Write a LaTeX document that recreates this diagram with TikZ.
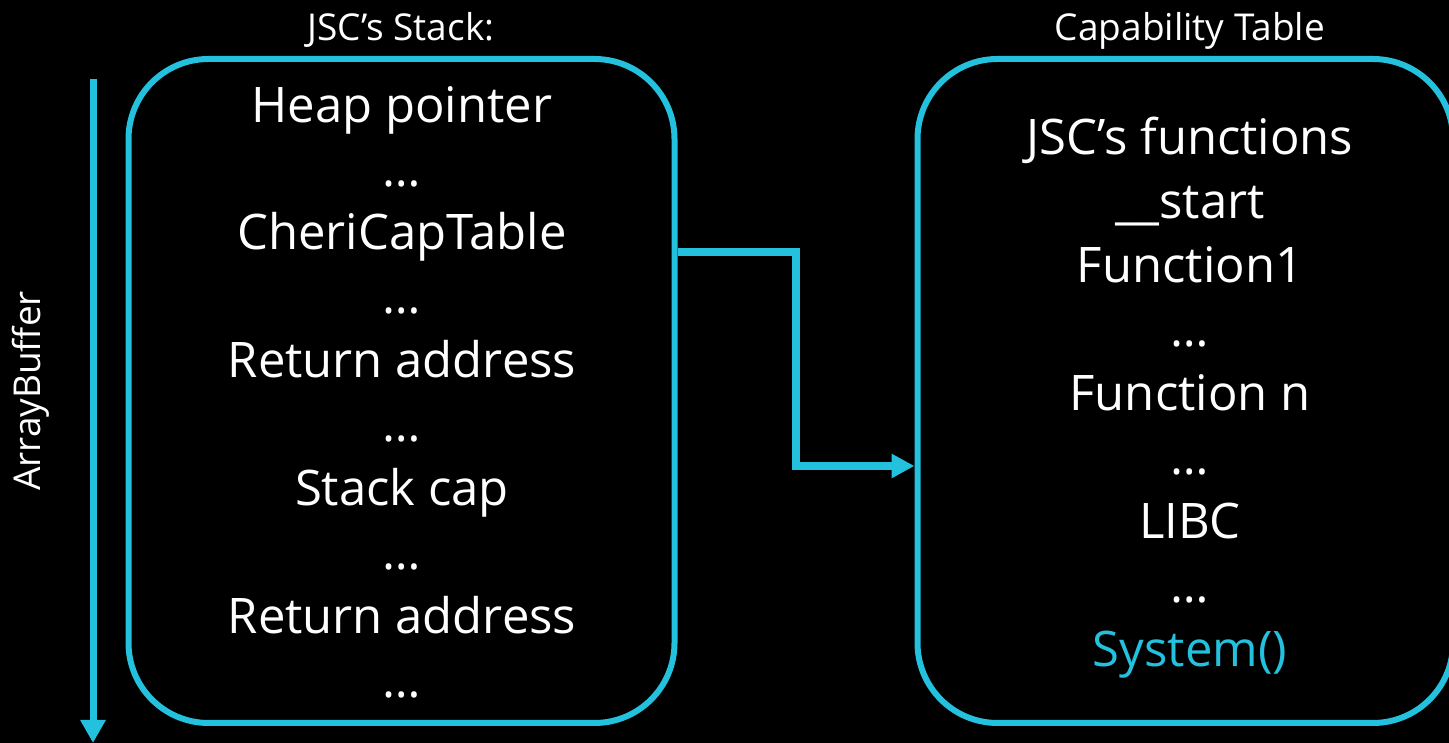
\documentclass[tikz,border=0pt]{standalone}
\usepackage{fontspec}
\setmainfont{Open Sans}
\usetikzlibrary{arrows.meta,calc}
\definecolor{cy}{RGB}{35,193,222}
\begin{document}
\begin{tikzpicture}[x=1pt,y=1pt,
  box/.style={draw=cy,line width=6pt,rounded corners=80pt,inner sep=0pt},
  big/.style={text=white,anchor=base,inner sep=0pt,font=\fontsize{49}{55}\selectfont},
  ttl/.style={text=white,anchor=base,inner sep=0pt,font=\fontsize{37}{42}\selectfont},
  conn/.style={draw=cy,line width=7.5pt,-{Triangle[length=23pt,width=23pt]}}]
\fill[black] (0,0) rectangle (1449,743);
\useasboundingbox (0,0) rectangle (1449,743);
% boxes
\node[box,minimum width=546pt,minimum height=664pt] (stack) at (401.5,352) {};
\node[box,minimum width=535.5pt,minimum height=664pt] (cap) at (1185.25,352) {};
% titles
\node[ttl] (t1) at (401,702) {JSC’s Stack:};
\node[ttl] (t2) at (1190,702) {Capability Table};
% ArrayBuffer axis
\coordinate (abtop) at (93,664);
\coordinate (abbot) at (93,0);
\draw[draw=cy,line width=7pt,-{Triangle[length=23pt,width=24pt]}] (abtop) -- (abbot);
\node[ttl,anchor=center,rotate=90] (ab) at (31,352) {ArrayBuffer};
% stack contents
\node[big] (s1) at (402,620) {Heap pointer};
\node[big] (s2) at (402,556) {…};
\node[big] (s3) at (402,493) {CheriCapTable};
\node[big] (s4) at (402,429) {…};
\node[big] (s5) at (402,365) {Return address};
\node[big] (s6) at (402,301) {…};
\node[big] (s7) at (402,237) {Stack cap};
\node[big] (s8) at (402,173) {…};
\node[big] (s9) at (402,109) {Return address};
\node[big] (s10) at (402,45) {…};
% capability table contents
\node[big] (c1) at (1190,588) {JSC’s functions};
\node[big] (c2) at (1190,524) {\_\_start};
\node[big] (c3) at (1190,460) {Function1};
\node[big] (c4) at (1190,396) {…};
\node[big] (c5) at (1190,332) {Function n};
\node[big] (c6) at (1190,268) {…};
\node[big] (c7) at (1190,204) {LIBC};
\node[big] (c8) at (1190,140) {…};
\node[big,text=cy] (c9) at (1190,76) {System()};
% connector
\coordinate (a0) at ($(stack.east)+(0,139)$);
\coordinate (bend) at (796,277);
\coordinate (a1) at ($(cap.west)+(0,-75)$);
\draw[conn] (a0) -| (bend) -- (a1);
\end{tikzpicture}
\end{document}
